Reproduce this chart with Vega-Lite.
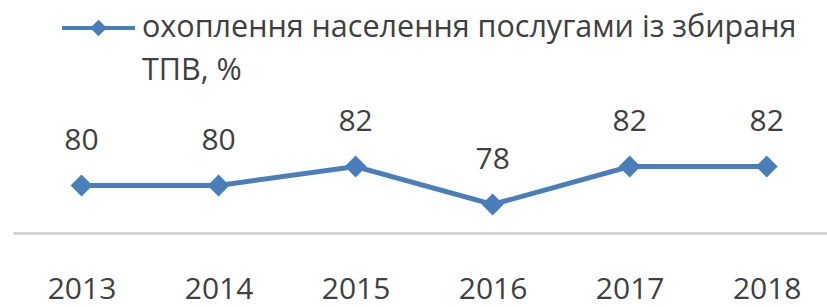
{
  "$schema": "https://vega.github.io/schema/vega-lite/v6.json",
  "width": 814,
  "height": 133,
  "autosize": {"type": "none"},
  "padding": {"left": 13, "top": 100, "right": 0, "bottom": 74},
  "background": "white",
  "config": {"view": {"stroke": null}, "font": "Open Sans"},
  "data": {
    "values": [
      {"year": 2013, "value": 80, "series": "охоплення населення послугами із збираня ТПВ, %"},
      {"year": 2014, "value": 80, "series": "охоплення населення послугами із збираня ТПВ, %"},
      {"year": 2015, "value": 82, "series": "охоплення населення послугами із збираня ТПВ, %"},
      {"year": 2016, "value": 78, "series": "охоплення населення послугами із збираня ТПВ, %"},
      {"year": 2017, "value": 82, "series": "охоплення населення послугами із збираня ТПВ, %"},
      {"year": 2018, "value": 82, "series": "охоплення населення послугами із збираня ТПВ, %"}
    ]
  },
  "encoding": {
    "x": {
      "field": "year",
      "type": "quantitative",
      "scale": {"domain": [2012.5, 2018.44], "nice": false, "zero": false},
      "axis": {
        "values": [2013, 2014, 2015, 2016, 2017, 2018],
        "format": "d",
        "title": null,
        "grid": false,
        "ticks": false,
        "tickSize": 0,
        "labelFont": "Open Sans",
        "labelFontSize": 30,
        "labelColor": "#404040",
        "labelPadding": 65,
        "labelBaseline": "alphabetic",
        "labelFlush": false,
        "domainColor": "#d4d4d4",
        "domainWidth": 3
      }
    },
    "y": {
      "field": "value",
      "type": "quantitative",
      "scale": {"domain": [75, 89], "nice": false, "zero": false},
      "axis": null
    }
  },
  "layer": [
    {
      "mark": {
        "type": "line",
        "strokeWidth": 5,
        "point": {"shape": "diamond", "size": 480, "filled": true, "opacity": 1}
      },
      "encoding": {
        "color": {
          "field": "series",
          "type": "nominal",
          "scale": {"range": ["#4a7ebb"]},
          "legend": {
            "orient": "none",
            "legendX": 47,
            "legendY": -110.5,
            "padding": 0,
            "title": null,
            "symbolType": "M-1,0H1M0,-0.15L0.15,0L0,0.15L-0.15,0Z",
            "symbolSize": 5329,
            "symbolStrokeWidth": 4,
            "labelFont": "Open Sans",
            "labelFontSize": 30.5,
            "labelColor": "#404040",
            "labelLimit": 0,
            "labelOffset": 5,
            "labelBaseline": "alphabetic",
            "labelExpr": "['охоплення населення послугами із збираня', 'ТПВ, %']",
            "encode": {
              "labels": {"update": {"lineHeight": {"value": 43}, "dy": {"value": 9}}},
              "symbols": {"update": {"fill": {"value": "#4a7ebb"}, "fillOpacity": {"value": 1}, "stroke": {"value": "#4a7ebb"}}}
            }
          }
        }
      }
    },
    {
      "mark": {
        "type": "text",
        "dy": -36,
        "baseline": "alphabetic",
        "font": "Open Sans",
        "fontSize": 30,
        "color": "#404040"
      },
      "encoding": {"text": {"field": "value", "type": "quantitative"}}
    }
  ]
}
